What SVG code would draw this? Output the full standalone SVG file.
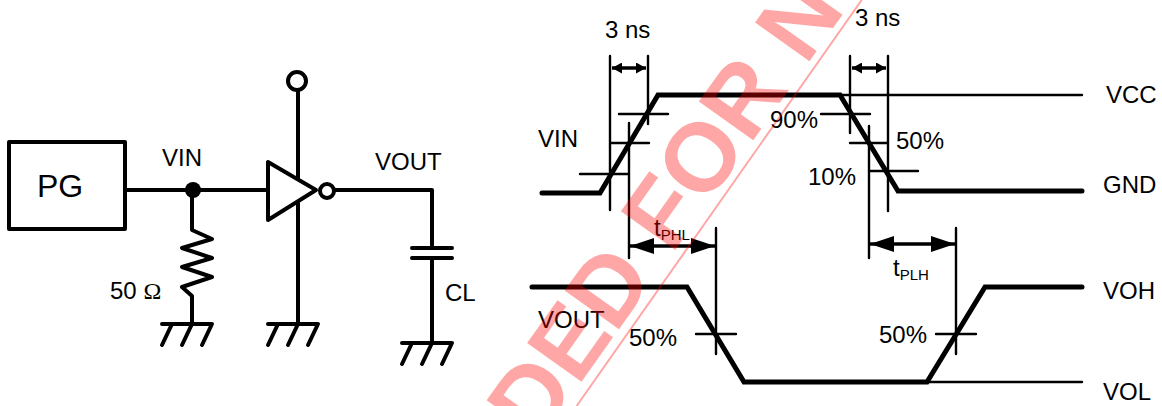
<svg xmlns="http://www.w3.org/2000/svg" width="1162" height="406" viewBox="0 0 1162 406">
<style>
text{font-family:"Liberation Sans",Arial,sans-serif;font-size:24px;fill:#000}
.w{fill:none;stroke:#000;stroke-width:4;stroke-linecap:round;stroke-linejoin:round}
.t{fill:none;stroke:#000;stroke-width:2.4;stroke-linecap:round}
.h{fill:none;stroke:#000;stroke-width:3.4}
.b{fill:none;stroke:#000;stroke-width:5;stroke-linecap:round;stroke-linejoin:miter}
.s{font-size:15px}
.wm{font-family:"Liberation Sans",Arial,sans-serif;font-weight:bold;font-size:97px;fill:#f00;fill-opacity:.35}
</style>
<defs>
<marker id="a" viewBox="0 0 24 16" refX="24" refY="8" markerWidth="24" markerHeight="16" markerUnits="userSpaceOnUse" orient="auto-start-reverse"><path d="M0 0L24 8L0 16Z"/></marker>
<marker id="m" viewBox="0 0 10 11" refX="10" refY="5.5" markerWidth="10" markerHeight="11" markerUnits="userSpaceOnUse" orient="auto-start-reverse"><path d="M0 0L10 5.5L0 11Z"/></marker>
<g id="gnd"><path class="w" d="M-30 0H20M-20 0L-30 21M0 0L-10 21M20 0L10 21"/></g>
</defs>
<g id="pg"><rect class="w" x="9" y="142" width="116" height="87"/><text x="37" y="197" style="font-size:32px">PG</text></g>
<g id="connectors">
<path class="w" d="M125 190H268M192 190V230L212 239L182 248L212 258L182 267L212 277L182 287L192 296V323M298 90V178M298 203V323M334 190H432V248M432 258V343"/>
</g>
<g id="junction"><circle cx="193" cy="190" r="8"/></g>
<g id="resistor"><text x="110" y="299">50 <tspan style="font-family:'Liberation Serif',serif">Ω</tspan></text></g>
<g id="inverter"><path class="w" d="M268 162V220L316 190Z"/><circle class="w" cx="327" cy="191" r="7"/></g>
<g id="vdd"><circle class="w" cx="297" cy="81" r="9"/></g>
<g id="cap"><path class="w" d="M412 248H452M412 258H452"/><text x="445" y="301">CL</text></g>
<g id="grounds"><use href="#gnd" x="192" y="324"/><use href="#gnd" x="298" y="324"/><use href="#gnd" x="432" y="343"/></g>
<g id="labels-left"><text x="162" y="166">VIN</text><text x="375" y="170">VOUT</text></g>
<g id="timing">
<path class="t" d="M840 95H1082M927 382H1082"/>
<path class="t" d="M610 56V210M648 56V124M629 123V258M619 114H668M610 143H649M580 174H629M850 56V133M888 56V211M869 126V258M821 114H870M850 143H888M869 171H918M716 228V354M696 334H736M956 228V354M936 334H976"/>
<path class="h" marker-start="url(#m)" marker-end="url(#m)" d="M612 68H646"/>
<path class="h" marker-start="url(#m)" marker-end="url(#m)" d="M852 68H886"/>
<path class="h" marker-start="url(#a)" marker-end="url(#a)" d="M630 246H715"/>
<path class="h" marker-start="url(#a)" marker-end="url(#a)" d="M870 244H955"/>
<path class="b" d="M542 193H600L658 95H840L898 191H1082M532 287H687L744 382H927L985 287H1082"/>
</g>
<g id="labels-right">
<text x="605" y="38">3 ns</text><text x="855" y="26">3 ns</text><text x="538" y="147">VIN</text><text x="770" y="128">90%</text><text x="896" y="149">50%</text><text x="808" y="185">10%</text><text x="1106" y="103">VCC</text><text x="1103" y="193">GND</text>
<text x="654" y="236">t<tspan class="s" dy="4">PHL</tspan></text><text x="893" y="276">t<tspan class="s" dy="4">PLH</tspan></text>
<text x="538" y="328">VOUT</text><text x="629" y="346">50%</text><text x="879" y="343">50%</text><text x="1103" y="299">VOH</text><text x="1103" y="400">VOL</text>
</g>
<g id="watermark">
<text class="wm" transform="translate(576.6 406) rotate(-54.6)" x="-54" y="-10">DED FOR N</text>
<line x1="576.6" y1="406" x2="861.7" y2="0" stroke="#f00" stroke-opacity=".35" stroke-width="2"/>
</g>
</svg>
